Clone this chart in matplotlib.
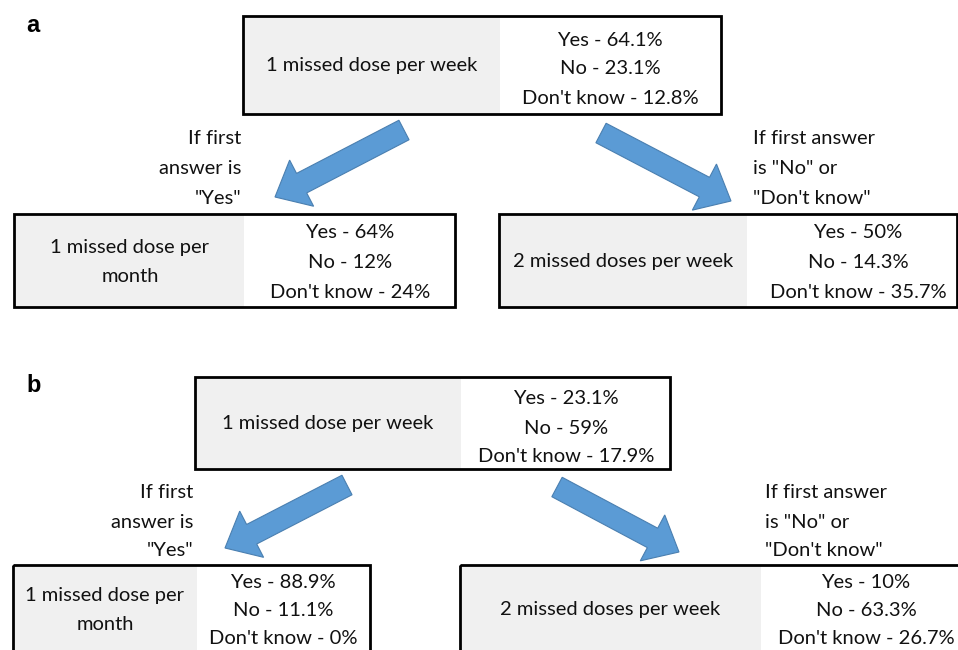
import matplotlib
matplotlib.use("Agg")
import matplotlib.pyplot as plt
from matplotlib.patches import Rectangle, FancyArrow

# Texte der Knoten (Fragen) und Antwortanteile
panel_labels = ["a", "b"]
question_top = "1 missed dose per week"
question_left = "1 missed dose per\nmonth"
question_right = "2 missed doses per week"
answer_names = ["Yes", "No", "Don't know"]
a_top = ["64.1%", "23.1%", "12.8%"]
a_left = ["64%", "12%", "24%"]
a_right = ["50%", "14.3%", "35.7%"]
b_top = ["23.1%", "59%", "17.9%"]
b_left = ["88.9%", "11.1%", "0%"]
b_right = ["10%", "63.3%", "26.7%"]
cond_yes = "If first\nanswer is\n\"Yes\""
cond_no = "If first answer\nis \"No\" or\n\"Don't know\""

GREY = "#f0f0f0"
BLUE = "#5b9bd5"
BLUE_EDGE = "#4a7fb0"
TXT = "#111111"
FONT = "Lato"
FS = 14.5

fig = plt.figure(figsize=(9.58, 6.5), dpi=100)
ax = fig.add_axes([0, 0, 1, 1])
ax.set_xlim(0, 958)
ax.set_ylim(650, 0)
ax.set_aspect("equal")
ax.axis("off")


def txt(x, y, s, ha="center"):
    ax.text(x, y, s, ha=ha, va="center", fontsize=FS, family=FONT, color=TXT, zorder=4)


def node(x0, x_split, x1, y0, y1, question, q_x, q_ys, values, v_x, v_ys):
    # grauer Fragenteil + schwarzer Rahmen
    ax.add_patch(Rectangle((x0, y0), x_split - x0, y1 - y0, facecolor=GREY, edgecolor="none", zorder=1))
    ax.add_patch(Rectangle((x0, y0), x1 - x0, y1 - y0, facecolor="none", edgecolor="black",
                           linewidth=2.0, zorder=3))
    for line, yy in zip(question.split("\n"), q_ys):
        txt(q_x, yy, line)
    for name, v, yy in zip(answer_names, values, v_ys):
        txt(v_x, yy, f"{name} - {v}")


def arrow(x0, y0, x1, y1):
    ax.add_patch(FancyArrow(x0, y0, x1 - x0, y1 - y0, width=22, head_width=52, head_length=30,
                            length_includes_head=True, facecolor=BLUE, edgecolor=BLUE_EDGE,
                            linewidth=0.8, zorder=2))


def cond(x, ys, text, ha):
    for line, yy in zip(text.split("\n"), ys):
        txt(x, yy, line, ha=ha)


# Panel a
ax.text(26, 25, panel_labels[0], fontsize=17, fontweight="bold", family="Liberation Sans", va="center")
node(243, 500, 721, 16, 114, question_top, 372, [66], a_top, 610, [40, 69, 99])
arrow(404, 130, 275, 197)
arrow(601, 133, 731, 201)
cond(241, [138, 169, 199], cond_yes, "right")
cond(753, [138, 169, 199], cond_no, "left")
node(14, 244, 455, 214, 307, question_left, 130, [248, 277], a_left, 350, [232, 262, 292])
node(499, 747, 957, 214, 307, question_right, 623, [262], a_right, 858, [232, 262, 292])

# Panel b
ax.text(26, 386, panel_labels[1], fontsize=17, fontweight="bold", family="Liberation Sans", va="center")
node(195, 461, 670, 377, 469, question_top, 328, [424], b_top, 566, [399, 428, 456])
arrow(347, 485, 225, 548)
arrow(557, 487, 679, 552)
cond(193, [493, 522, 551], cond_yes, "right")
cond(765, [493, 522, 551], cond_no, "left")
node(13, 197, 370, 565, 665, question_left, 105, [596, 625], b_left, 283, [582, 610, 638])
node(460, 761, 980, 565, 665, question_right, 610, [610], b_right, 866, [582, 610, 638])

fig.savefig("out.png", dpi=100)
